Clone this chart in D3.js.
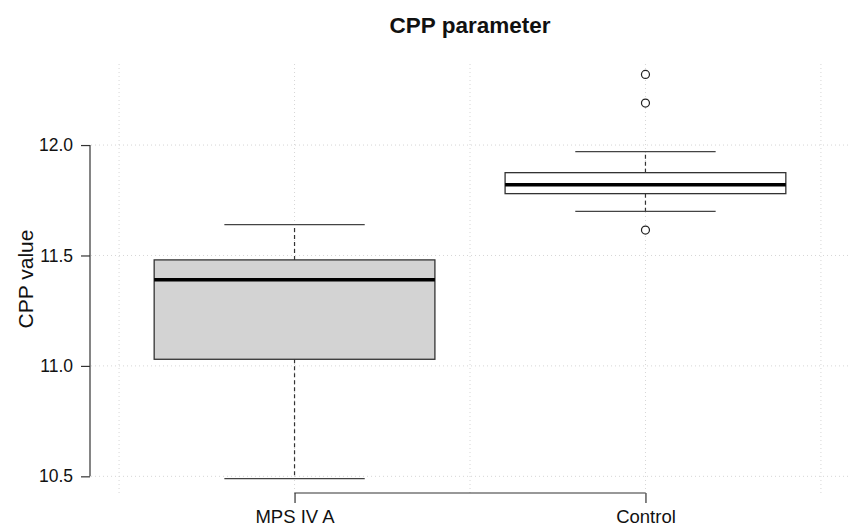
<!DOCTYPE html>
<html>
<head>
<meta charset="utf-8">
<script src="https://cdn.jsdelivr.net/npm/d3@7"></script>
<style>
  body { margin: 0; background: #fff; }
  svg { font-family: "Liberation Sans", Arial, sans-serif; }
</style>
</head>
<body>
<div id="chart"></div>
<script>
// box plot summary
const groups = ["MPS IV A", "Control"];
const lowerWhisker = [10.49, 11.70];
const q1 = [11.03, 11.78];
const median = [11.39, 11.82];
const q3 = [11.48, 11.875];
const upperWhisker = [11.64, 11.97];
const outliers = [[], [12.32, 12.19, 11.615]];
const yTicks = [10.5, 11.0, 11.5, 12.0];
const gridX = [0.5, 1, 1.5, 2, 2.5];

const width = 849, height = 529;
const plot = { left: 91, right: 849, top: 64, bottom: 494 };

const svg = d3.select("#chart").append("svg")
    .attr("width", width)
    .attr("height", height);

const x = d3.scaleLinear().domain([0.42, 2.58]).range([plot.left, plot.right]);
const y = d3.scaleLinear().domain([10.42, 12.367]).range([plot.bottom, plot.top]);

// dotted grid
const grid = svg.append("g")
    .attr("stroke", "#d6d6d6")
    .attr("stroke-width", 1)
    .attr("stroke-dasharray", "1,3");
grid.selectAll("line.v").data(gridX).enter().append("line")
    .attr("class", "v")
    .attr("x1", d => x(d)).attr("x2", d => x(d))
    .attr("y1", plot.top).attr("y2", plot.bottom);
grid.selectAll("line.h").data(yTicks).enter().append("line")
    .attr("class", "h")
    .attr("x1", plot.left).attr("x2", plot.right)
    .attr("y1", d => y(d)).attr("y2", d => y(d));

// boxes
const data = groups.map((g, i) => ({
    name: g, pos: i + 1,
    lo: lowerWhisker[i], q1: q1[i], med: median[i], q3: q3[i], hi: upperWhisker[i],
    out: outliers[i],
    fill: i === 0 ? "#d3d3d3" : "#ffffff"
}));

const box = svg.append("g").selectAll("g")
    .data(data).enter().append("g");

// dashed whiskers
box.append("line")
    .attr("x1", d => x(d.pos)).attr("x2", d => x(d.pos))
    .attr("y1", d => y(d.q3)).attr("y2", d => y(d.hi))
    .attr("stroke", "#333").attr("stroke-width", 1.2)
    .attr("stroke-dasharray", "4,3");
box.append("line")
    .attr("x1", d => x(d.pos)).attr("x2", d => x(d.pos))
    .attr("y1", d => y(d.q1)).attr("y2", d => y(d.lo))
    .attr("stroke", "#333").attr("stroke-width", 1.2)
    .attr("stroke-dasharray", "4,3");

// staples
["lo", "hi"].forEach(k => {
    box.append("line")
        .attr("x1", d => x(d.pos - 0.2)).attr("x2", d => x(d.pos + 0.2))
        .attr("y1", d => y(d[k])).attr("y2", d => y(d[k]))
        .attr("stroke", "#444").attr("stroke-width", 1.3);
});

box.append("rect")
    .attr("x", d => x(d.pos - 0.4))
    .attr("width", d => x(d.pos + 0.4) - x(d.pos - 0.4))
    .attr("y", d => y(d.q3))
    .attr("height", d => y(d.q1) - y(d.q3))
    .attr("fill", d => d.fill)
    .attr("stroke", "#333").attr("stroke-width", 1.3);

box.append("line")
    .attr("x1", d => x(d.pos - 0.4)).attr("x2", d => x(d.pos + 0.4))
    .attr("y1", d => y(d.med)).attr("y2", d => y(d.med))
    .attr("stroke", "#000").attr("stroke-width", 3.5);

box.selectAll("circle")
    .data(d => d.out.map(v => ({ pos: d.pos, v: v })))
    .enter().append("circle")
    .attr("cx", d => x(d.pos)).attr("cy", d => y(d.v))
    .attr("r", 4)
    .attr("fill", "#fff").attr("stroke", "#222").attr("stroke-width", 1.2);

// y axis
const yAxis = svg.append("g")
    .attr("transform", `translate(${plot.left - 1},0)`)
    .call(d3.axisLeft(y).tickValues(yTicks).tickFormat(d3.format(".1f"))
        .tickSize(9).tickPadding(8));
yAxis.select(".domain").remove();
yAxis.append("line")
    .attr("y1", y(yTicks[0])).attr("y2", y(yTicks[yTicks.length - 1]))
    .attr("stroke", "#333").attr("stroke-width", 1.2);
yAxis.selectAll(".tick line").attr("stroke", "#333").attr("stroke-width", 1.2);
yAxis.selectAll(".tick text")
    .attr("font-size", "17.5px").attr("fill", "#111")
    .style("font-family", "Liberation Sans, Arial, sans-serif");

// x axis
const xAxis = svg.append("g")
    .attr("transform", "translate(0,493)")
    .call(d3.axisBottom(x).tickValues([1, 2]).tickFormat(d => groups[d - 1])
        .tickSize(10).tickPadding(7));
xAxis.select(".domain").remove();
xAxis.append("line")
    .attr("x1", x(1)).attr("x2", x(2))
    .attr("stroke", "#333").attr("stroke-width", 1.2);
xAxis.selectAll(".tick line").attr("stroke", "#333").attr("stroke-width", 1.2);
xAxis.selectAll(".tick text")
    .attr("font-size", "18.5px").attr("fill", "#111")
    .style("font-family", "Liberation Sans, Arial, sans-serif");

// title and y label
svg.append("text")
    .attr("x", (plot.left + plot.right) / 2).attr("y", 33)
    .attr("text-anchor", "middle")
    .attr("font-size", "22.5px").attr("font-weight", "bold")
    .attr("fill", "#111")
    .text("CPP parameter");

svg.append("text")
    .attr("transform", `translate(33,${(plot.top + plot.bottom) / 2}) rotate(-90)`)
    .attr("text-anchor", "middle")
    .attr("font-size", "21px")
    .attr("fill", "#111")
    .text("CPP value");
</script>
</body>
</html>
